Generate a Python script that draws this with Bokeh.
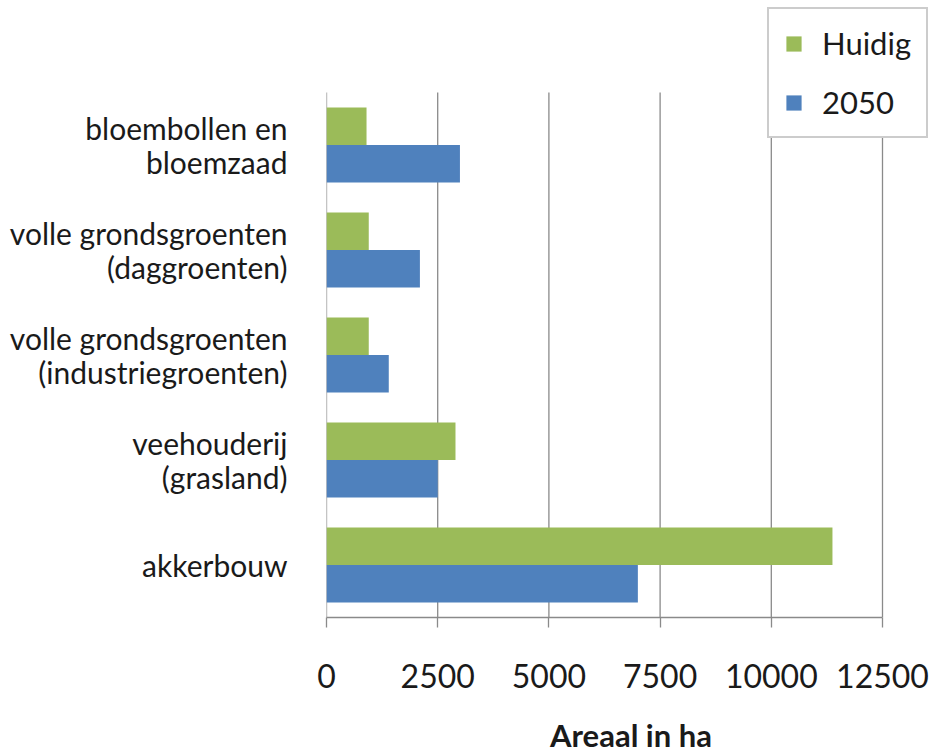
from bokeh.plotting import figure
from bokeh.models import Range1d, FixedTicker, Legend, LegendItem, ColumnDataSource
from bokeh.embed import file_html
from bokeh.resources import INLINE

categories = ["bloembollen en\nbloemzaad",
              "volle grondsgroenten\n(daggroenten)",
              "volle grondsgroenten\n(industriegroenten)",
              "veehouderij\n(grasland)",
              "akkerbouw"]
huidig = [900, 950, 950, 2900, 11375]
y2050 = [3000, 2100, 1400, 2500, 7000]
series = ["Huidig", "2050"]
colors = ["#9bbb59", "#4f81bd"]
x_ticks = [0, 2500, 5000, 7500, 10000, 12500]
x_label = "Areaal in ha"

FONT = "Lato"
W, H = 935, 756
LEFT, BOTTOM = 326, 139          # frame borders (px)
CAT_PX = 105                     # px per category
AX_PX = 556                      # px for x_ticks span
n = len(categories)
pos = [n - 1 - i + 0.5 for i in range(n)]
bar_h = 0.357

frame_w = W - LEFT
frame_h = H - BOTTOM
x_max = x_ticks[-1] * frame_w / AX_PX
y_max = frame_h / CAT_PX

src_h = ColumnDataSource(dict(y=[p_ + bar_h / 2 for p_ in pos], right=huidig))
src_b = ColumnDataSource(dict(y=[p_ - bar_h / 2 for p_ in pos], right=y2050))
src_g = ColumnDataSource(dict(x=x_ticks, y0=[0] * len(x_ticks), y1=[n] * len(x_ticks)))

p = figure(output_backend="svg", toolbar_location=None,
           width=W, height=H,
           min_border_left=LEFT, min_border_right=0,
           min_border_top=0, min_border_bottom=BOTTOM,
           x_range=Range1d(x_ticks[0], x_max), y_range=Range1d(0, y_max))
p.background_fill_color = "white"
p.border_fill_color = "white"
p.outline_line_color = None
p.grid.visible = False

# vertical gridlines
p.segment(x0="x", y0="y0", x1="x", y1="y1", source=src_g,
          line_color="#8a8a8a", line_width=1.3)

r1 = p.hbar(y="y", left=0, right="right", height=bar_h, source=src_h,
            fill_color=colors[0], line_color=None)
r2 = p.hbar(y="y", left=0, right="right", height=bar_h, source=src_b,
            fill_color=colors[1], line_color=None)

# x axis
xa = p.xaxis[0]
xa.ticker = FixedTicker(ticks=x_ticks)
xa.bounds = (x_ticks[0], x_ticks[-1])
xa.minor_tick_line_color = None
xa.major_tick_in = 0
xa.major_tick_out = 10
xa.major_tick_line_color = "#8a8a8a"
xa.major_tick_line_width = 1.3
xa.axis_line_color = "#8a8a8a"
xa.axis_line_width = 1.3
xa.major_label_text_font = FONT
xa.major_label_text_font_size = "32px"
xa.major_label_text_color = "#1a1a1a"
xa.major_label_text_line_height = 0.8
xa.major_label_standoff = 36
xa.axis_label = x_label
xa.axis_label_text_font = FONT
xa.axis_label_text_font_size = "31px"
xa.axis_label_text_font_style = "bold"
xa.axis_label_text_color = "#1a1a1a"
xa.axis_label_text_line_height = 0.8
xa.axis_label_standoff = 25

# y axis
ya = p.yaxis[0]
ya.ticker = FixedTicker(ticks=pos)
ya.major_label_overrides = {p_: c for p_, c in zip(pos, categories)}
ya.axis_line_color = None
ya.major_tick_line_color = None
ya.minor_tick_line_color = None
ya.major_label_text_font = FONT
ya.major_label_text_font_size = "30px"
ya.major_label_text_color = "#1a1a1a"
ya.major_label_text_line_height = 0.97
ya.major_label_standoff = 33

legend = Legend(items=[LegendItem(label=series[0], renderers=[r1]),
                       LegendItem(label=series[1], renderers=[r2])],
                location=(441, 479))
legend.border_line_color = "#9a9a9a"
legend.border_line_width = 2
legend.background_fill_color = "white"
legend.background_fill_alpha = 1
legend.label_text_font = FONT
legend.label_text_font_size = "31px"
legend.label_text_color = "#1a1a1a"
legend.glyph_width = 19
legend.glyph_height = 19
legend.label_height = 28
legend.spacing = 21
legend.padding = 15
legend.label_standoff = 19
legend.margin = 0
p.add_layout(legend, "center")

open("out.html", "w").write(file_html(p, INLINE))
